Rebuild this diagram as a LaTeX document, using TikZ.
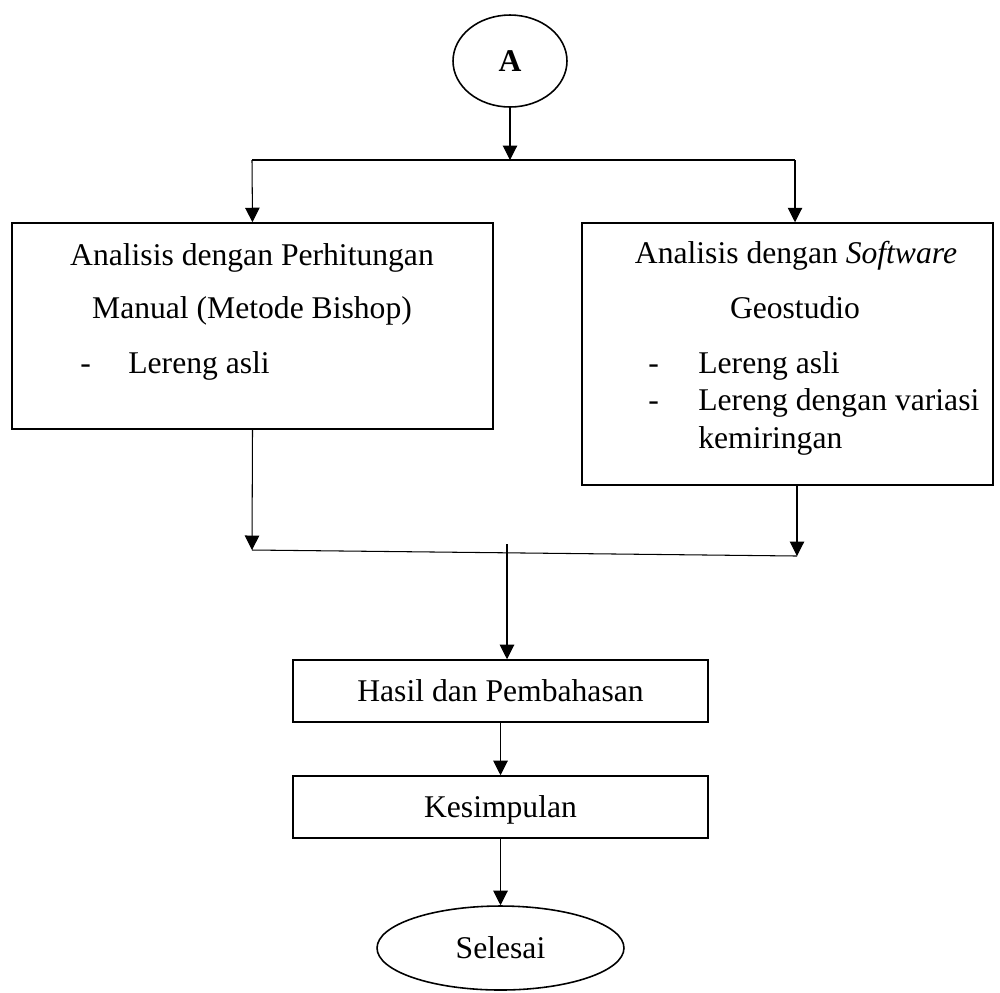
\documentclass[tikz,border=0pt]{standalone}
\usepackage{fontspec}
\setmainfont{Liberation Serif}
\usetikzlibrary{arrows.meta,calc,positioning,shapes.geometric}
\definecolor{chartink}{HTML}{000000}
\tikzset{
  charttext/.style={font=\fontsize{18}{22}\selectfont, text=chartink, inner sep=0pt},
  chartbox/.style={draw=chartink, line width=.9pt, rectangle, inner sep=0pt,
    font=\fontsize{18}{22}\selectfont, text height=12pt, text depth=0pt},
  chartoval/.style={draw=chartink, line width=.9pt, ellipse, inner sep=0pt,
    font=\fontsize{18}{22}\selectfont, text height=12pt, text depth=0pt},
  chartflow/.style={-{Triangle[length=2.9mm,width=2.9mm]}, draw=chartink, line width=.6pt},
  chartline/.style={draw=chartink, line width=.6pt}
}

\begin{document}
\begin{tikzpicture}[x=0.02cm,y=-0.02cm]
  \useasboundingbox (0,0) rectangle (1000,992);
  % terminals and process boxes
  \node[chartoval, minimum width=2.28cm, minimum height=1.84cm] (startA) at (510,61) {\bfseries A};
  \node[chartbox, minimum width=9.62cm, minimum height=4.12cm] (manual) at (252.5,326) {};
  \node[chartbox, minimum width=8.22cm, minimum height=5.24cm] (software) at (787.5,354) {};
  \node[chartbox, minimum width=8.3cm, minimum height=1.24cm] (hasil) at (500.5,691) {Hasil dan Pembahasan};
  \node[chartbox, minimum width=8.3cm, minimum height=1.24cm] (kesimpulan) at (500.5,807) {Kesimpulan};
  \node[chartoval, minimum width=4.94cm, minimum height=1.68cm] (selesai) at (500.5,948) {Selesai};

  % text inside the two analysis boxes
  \node[charttext, anchor=base] (manualA) at (252,265) {Analisis dengan Perhitungan};
  \node[charttext, anchor=base] (manualB) at (252,318) {Manual (Metode Bishop)};
  \node[charttext, anchor=base west] (manualDash) at (80,373) {-};
  \node[charttext, anchor=base west] (manualC) at (128,373) {Lereng asli};

  \node[charttext, anchor=base] (softA) at (796,263) {Analisis dengan \textit{Software}};
  \node[charttext, anchor=base] (softB) at (795,318) {Geostudio};
  \node[charttext, anchor=base west] (softDashA) at (648,373) {-};
  \node[charttext, anchor=base west] (softC) at (698,373) {Lereng asli};
  \node[charttext, anchor=base west] (softDashB) at (648,410) {-};
  \node[charttext, anchor=base west] (softD) at (698,410) {Lereng dengan variasi};
  \node[charttext, anchor=base west] (softE) at (698,448) {kemiringan};

  % split and join points
  \coordinate (splitL) at (252,160);
  \coordinate (splitM) at (510,160);
  \coordinate (splitR) at (795,160);
  \coordinate (joinL) at (252,550);
  \coordinate (joinM) at (507,544);
  \coordinate (joinR) at (797,556);

  \draw[chartflow] (startA) -- (splitM);
  \draw[chartline] (splitL) -- (splitR);
  \draw[chartflow] (splitL) -- (manual.north);
  \draw[chartflow] (splitR) -- (splitR |- software.north);
  \draw[chartflow] (manual.south) -- (joinL);
  \draw[chartflow] (software.south -| joinR) -- (joinR);
  \draw[chartline] (joinL) -- (joinR);
  \draw[chartflow] (joinM) -- (joinM |- hasil.north);
  \draw[chartflow] (hasil) -- (kesimpulan);
  \draw[chartflow] (kesimpulan) -- (selesai);
\end{tikzpicture}
\end{document}
